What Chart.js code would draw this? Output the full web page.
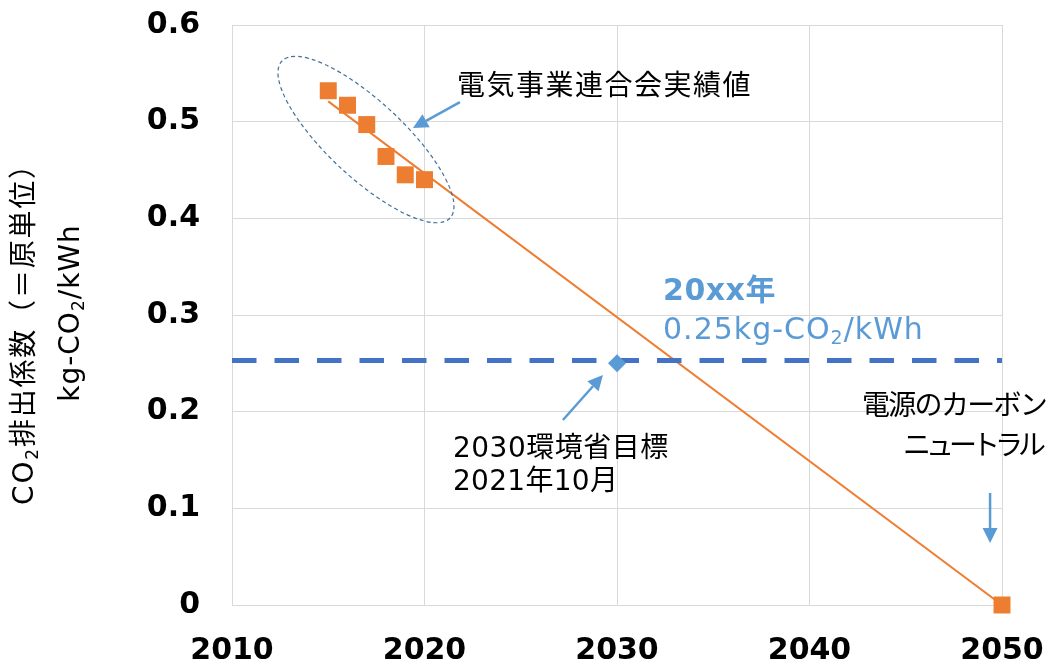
<!DOCTYPE html>
<html>
<head>
<meta charset="utf-8">
<script src="https://cdn.jsdelivr.net/npm/chart.js@4.4.1/dist/chart.umd.min.js"></script>
<style>
  html, body { margin: 0; padding: 0; background: #fff; }
</style>
</head>
<body>
<canvas id="chart" width="1052" height="663"></canvas>
<script>
// Data
const actualYears = [2015, 2016, 2017, 2018, 2019, 2020];
const actualValues = [0.532, 0.517, 0.497, 0.464, 0.445, 0.440];
const neutralYears = [2050];
const neutralValues = [0];
const trendYears = [2015, 2050];
const trendValues = [0.521, 0];
const targetYears = [2030];
const targetValues = [0.25];
const targetLineYears = [2010, 2050];
const targetLineValues = [0.253, 0.253];
const xTicks = [2010, 2020, 2030, 2040, 2050];
const yTicks = [0, 0.1, 0.2, 0.3, 0.4, 0.5, 0.6];

// Annotation anchors (data units)
const clusterCentre = { x: 2016.96, y: 0.4815 };
const arrows = [
  { from: { x: 2021.84, y: 0.5203 }, to: { x: 2019.40, y: 0.4934 } },
  { from: { x: 2027.19, y: 0.1914 }, to: { x: 2029.27, y: 0.2379 } },
  { from: { x: 2049.38, y: 0.1159 }, to: { x: 2049.38, y: 0.0641 } }
];
const notes = [
  { parts: [{ t: '電気事業連合会実績値' }], x: 2021.69, y: 0.5348, align: 'left', size: 28, weight: 'normal', color: '#000', spacing: 1.5 },
  { parts: [{ t: '20xx年' }], x: 2032.39, y: 0.3238, align: 'left', size: 30, weight: 'bold', color: '#5B9BD5', spacing: 0.5 },
  { parts: [{ t: '0.25kg-CO' }, { t: '2', sub: true }, { t: '/kWh' }], x: 2032.39, y: 0.2834, align: 'left', size: 30, weight: 'normal', color: '#5B9BD5', spacing: 1 },
  { parts: [{ t: '電源のカーボン' }], x: 2052.29, y: 0.2038, align: 'right', size: 28, weight: 'normal', color: '#000', spacing: -1.7 },
  { parts: [{ t: 'ニュートラル' }], x: 2052.03, y: 0.1624, align: 'right', size: 28, weight: 'normal', color: '#000', spacing: -5 },
  { parts: [{ t: '2030環境省目標' }], x: 2021.48, y: 0.1603, align: 'left', size: 28, weight: 'normal', color: '#000', spacing: 0.5 },
  { parts: [{ t: '2021年10月' }], x: 2021.48, y: 0.1262, align: 'left', size: 28, weight: 'normal', color: '#000', spacing: 0.3 }
];

const FAMILY = '"DejaVu Sans", "Noto Sans CJK JP", sans-serif';
const ORANGE = '#ED7D31';
const BLUE = '#5B9BD5';
const GRID = '#D9D9D9';

const toPoints = (xs, ys) => xs.map((x, i) => ({ x: x, y: ys[i] }));

// Draw text with optional subscript parts
function drawRich(ctx, parts, x, y, align, size, weight, color, spacing) {
  const base = `${weight} ${size}px ${FAMILY}`;
  const sub = `${weight} ${Math.round(size * 0.62)}px ${FAMILY}`;
  ctx.letterSpacing = (spacing || 0) + 'px';
  let total = 0;
  const widths = parts.map(p => {
    ctx.font = p.sub ? sub : base;
    const w = ctx.measureText(p.t).width;
    total += w;
    return w;
  });
  let cx = align === 'left' ? x : align === 'right' ? x - total : x - total / 2;
  ctx.fillStyle = color;
  ctx.textAlign = 'left';
  ctx.textBaseline = 'middle';
  parts.forEach((p, i) => {
    ctx.font = p.sub ? sub : base;
    ctx.fillText(p.t, cx, p.sub ? y + size * 0.27 : y);
    cx += widths[i];
  });
  ctx.letterSpacing = '0px';
}

function drawArrow(ctx, x1, y1, x2, y2) {
  const ang = Math.atan2(y2 - y1, x2 - x1);
  const head = 15, half = 7.5;
  const bx = x2 - head * Math.cos(ang), by = y2 - head * Math.sin(ang);
  ctx.strokeStyle = BLUE;
  ctx.fillStyle = BLUE;
  ctx.lineWidth = 2.5;
  ctx.setLineDash([]);
  ctx.beginPath();
  ctx.moveTo(x1, y1);
  ctx.lineTo(bx, by);
  ctx.stroke();
  ctx.beginPath();
  ctx.moveTo(x2, y2);
  ctx.lineTo(bx + half * Math.sin(ang), by - half * Math.cos(ang));
  ctx.lineTo(bx - half * Math.sin(ang), by + half * Math.cos(ang));
  ctx.closePath();
  ctx.fill();
}

const annotations = {
  id: 'annotations',
  afterDraw(chart) {
    const ctx = chart.ctx;
    const sx = chart.scales.x, sy = chart.scales.y;
    ctx.save();

    // Dashed ellipse around the measured values
    ctx.strokeStyle = '#41719C';
    ctx.lineWidth = 1.2;
    ctx.setLineDash([4, 3]);
    ctx.beginPath();
    ctx.ellipse(sx.getPixelForValue(clusterCentre.x), sy.getPixelForValue(clusterCentre.y),
      115, 38, 43 * Math.PI / 180, 0, Math.PI * 2);
    ctx.stroke();

    arrows.forEach(a => drawArrow(ctx,
      sx.getPixelForValue(a.from.x), sy.getPixelForValue(a.from.y),
      sx.getPixelForValue(a.to.x), sy.getPixelForValue(a.to.y)));

    notes.forEach(n => drawRich(ctx, n.parts,
      sx.getPixelForValue(n.x), sy.getPixelForValue(n.y),
      n.align, n.size, n.weight, n.color, n.spacing));

    // Rotated y-axis title, two lines
    const mid = (chart.chartArea.top + chart.chartArea.bottom) / 2;
    ctx.translate(26, mid + 12);
    ctx.rotate(-Math.PI / 2);
    drawRich(ctx, [{ t: 'CO' }, { t: '2', sub: true }, { t: '排出係数（＝原単位）' }], 0, 0, 'center', 28, 'normal', '#000', 1.8);
    ctx.rotate(Math.PI / 2);
    ctx.translate(46, -14);
    ctx.rotate(-Math.PI / 2);
    drawRich(ctx, [{ t: 'kg-CO' }, { t: '2', sub: true }, { t: '/kWh' }], 0, 0, 'center', 28, 'normal', '#000', 1);
    ctx.restore();
  }
};

const ctx = document.getElementById('chart').getContext('2d');
new Chart(ctx, {
  type: 'scatter',
  data: {
    datasets: [
      {
        data: toPoints(actualYears, actualValues),
        pointStyle: 'rect',
        pointRadius: 12,
        pointBorderWidth: 0,
        backgroundColor: ORANGE,
        borderColor: ORANGE
      },
      {
        data: toPoints(neutralYears, neutralValues),
        pointStyle: 'rect',
        pointRadius: 12,
        pointBorderWidth: 0,
        backgroundColor: ORANGE,
        borderColor: ORANGE
      },
      {
        data: toPoints(targetYears, targetValues),
        pointStyle: 'rectRot',
        pointRadius: 9,
        pointBorderWidth: 0,
        backgroundColor: BLUE,
        borderColor: BLUE
      },
      {
        data: toPoints(targetLineYears, targetLineValues),
        showLine: true,
        pointRadius: 0,
        borderColor: '#4472C4',
        borderWidth: 5,
        borderDash: [24.5, 18]
      },
      {
        data: toPoints(trendYears, trendValues),
        showLine: true,
        pointRadius: 0,
        borderColor: ORANGE,
        borderWidth: 2
      }
    ]
  },
  options: {
    responsive: false,
    animation: false,
    clip: false,
    layout: { padding: { top: 25, right: 50, left: 0, bottom: 0 } },
    plugins: {
      legend: { display: false },
      tooltip: { enabled: false }
    },
    scales: {
      x: {
        type: 'linear',
        min: 2010,
        max: 2050,
        afterBuildTicks: (scale) => { scale.ticks = xTicks.map(v => ({ value: v })); },
        afterFit: (scale) => {
          scale.height = 58;
          scale.paddingLeft = 0;
          scale.paddingRight = 0;
        },
        grid: { color: GRID, lineWidth: 1, drawTicks: false },
        border: { display: true, color: GRID },
        ticks: {
          padding: 28,
          color: '#000',
          font: { family: 'DejaVu Sans', size: 30, weight: 'bold' },
          callback: (value) => String(value)
        }
      },
      y: {
        min: 0,
        max: 0.6,
        afterBuildTicks: (scale) => { scale.ticks = yTicks.map(v => ({ value: v })); },
        afterFit: (scale) => {
          scale.width = 232;
          scale.paddingTop = 0;
          scale.paddingBottom = 0;
        },
        grid: { color: GRID, lineWidth: 1, drawTicks: false },
        border: { display: true, color: GRID },
        ticks: {
          padding: 32,
          color: '#000',
          font: { family: 'DejaVu Sans', size: 30, weight: 'bold' },
          callback: (value) => value === 0 ? '0' : value.toFixed(1)
        }
      }
    }
  },
  plugins: [annotations]
});
</script>
</body>
</html>
